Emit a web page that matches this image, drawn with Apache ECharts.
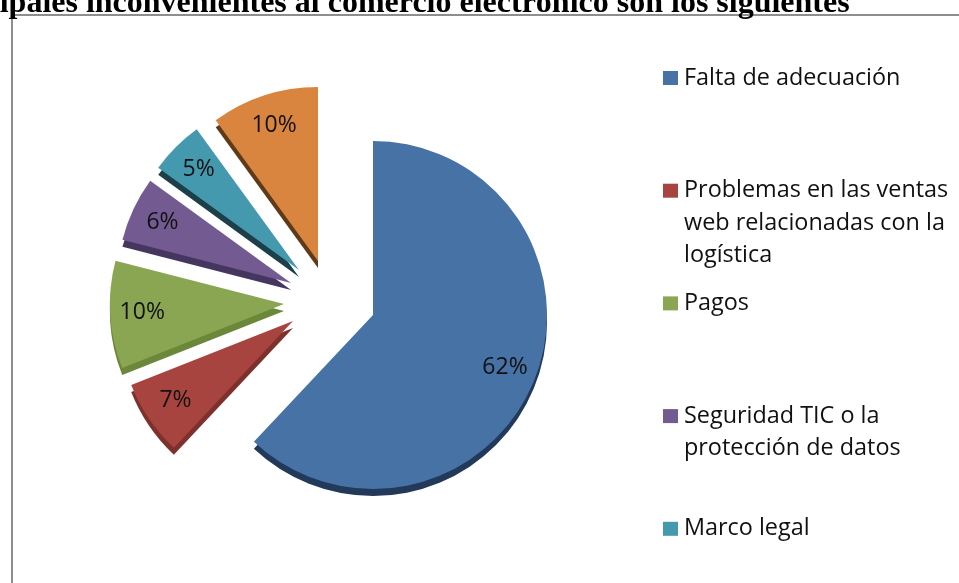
<!DOCTYPE html>
<html>
<head>
<meta charset="utf-8">
<script src="https://cdn.jsdelivr.net/npm/echarts@6/dist/echarts.min.js"></script>
<style>
  html, body { margin: 0; padding: 0; background: #ffffff; }
  #chart { width: 959px; height: 583px; }
</style>
</head>
<body>
<div id="chart"></div>
<script>
// Categories (legend names, wrapped as in the legend box) and their shares in %
const categories = [
  'Falta de adecuación',
  'Problemas en las ventas\nweb relacionadas con la\nlogística',
  'Pagos',
  'Seguridad TIC o la\nprotección de datos',
  'Marco legal',
  'Otros'
];
const shares = [62, 7, 10, 6, 5, 10];

// Top face and side (depth) colours for each slice
const faceColors = ['#4672A6', '#A8443F', '#8AA653', '#735B92', '#4599AE', '#D9853F'];
const sideColors = ['#22395A', '#7E302D', '#6B8739', '#45365F', '#1C3F49', '#5E3A16'];

// Apex of every slice; all but the first are pulled out of the pie
const sliceCenters = [[373, 315], [293, 321], [284, 304], [291, 283], [299, 270], [318, 261]];

const TITLE = 'Los principales inconvenientes al comercio electrónico son los siguientes';
const R = 174;          // pie radius
const DEPTH = 7;        // visible thickness of the pie
const LABEL_R0 = 104;   // inner radius of the ring that carries the % labels
const FONT = 'Open Sans';

const series = [];
shares.forEach(function (_, k) {
  const cx = sliceCenters[k][0], cy = sliceCenters[k][1];
  const oneSlice = function (style, withLabel) {
    return shares.map(function (v, i) {
      return {
        name: categories[i],
        value: v,
        itemStyle: i === k ? style : { color: 'rgba(0,0,0,0)' },
        label: { show: withLabel && i === k }
      };
    });
  };
  const common = {
    type: 'pie',
    startAngle: 90,
    clockwise: true,
    silent: true,
    avoidLabelOverlap: false,
    labelLine: { show: false },
    emphasis: { disabled: true }
  };
  // side of the slice, drawn below the face
  series.push(Object.assign({}, common, {
    name: 'side' + k, z: 1,
    center: [cx, cy + DEPTH], radius: [0, R],
    label: { show: false },
    data: oneSlice({ color: sideColors[k] }, false)
  }));
  // top face
  series.push(Object.assign({}, common, {
    name: 'face' + k, z: 2,
    center: [cx, cy], radius: [0, R],
    label: { show: false },
    data: oneSlice({ color: faceColors[k] }, false)
  }));
  // percentage label
  series.push(Object.assign({}, common, {
    name: 'label' + k, z: 3,
    center: [cx, cy], radius: [LABEL_R0, R],
    label: {
      position: 'inside', rotate: 0, formatter: '{c}%',
      color: '#111111', fontFamily: FONT, fontSize: 23
    },
    data: oneSlice({ color: 'rgba(0,0,0,0)' }, true)
  }));
});

// Legend: one block per entry, evenly spaced, first text line level with the square
const LINE_H = 32.5;
const FIRST_CENTER = 78;
const ITEM_STEP = 112.7;
const legends = categories.map(function (name, i) {
  const lines = name.split('\n').length;
  // blank lines in front keep the first text line at the middle of the block
  const shown = new Array(lines).join('\n') + name;
  const blockH = (2 * lines - 1) * LINE_H;
  return {
    orient: 'vertical',
    left: 663,
    top: FIRST_CENTER + i * ITEM_STEP - blockH / 2,
    padding: 0,
    itemWidth: 15,
    itemHeight: 14,
    icon: 'rect',
    selectedMode: false,
    formatter: function () { return shown; },
    textStyle: {
      fontFamily: FONT, fontSize: 23.4, color: '#111111',
      lineHeight: LINE_H, padding: [0, 0, 0, 1]
    },
    data: [{ name: name, itemStyle: { color: faceColors[i] } }]
  };
});

const chart = echarts.init(document.getElementById('chart'), null, { renderer: 'canvas' });
chart.setOption({
  animation: false,
  backgroundColor: '#ffffff',
  legend: legends,
  graphic: [
    {
      type: 'rect', silent: true, z: 0,
      shape: { x: 12, y: 15, width: 1000, height: 700 },
      style: { fill: 'none', stroke: '#8E8E8E', lineWidth: 2 }
    },
    {
      type: 'text', silent: true, z: 10,
      x: -131, y: 4,
      style: {
        text: TITLE,
        font: 'bold 32px "Liberation Serif", "Times New Roman", serif',
        fill: '#000000',
        verticalAlign: 'middle',
        align: 'left'
      }
    }
  ],
  series: series
});
</script>
</body>
</html>
